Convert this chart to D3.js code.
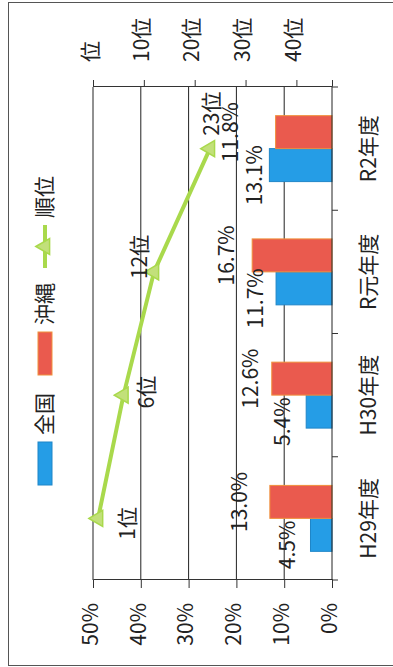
<!DOCTYPE html>
<html lang="ja">
<head>
<meta charset="utf-8">
<script src="https://cdn.jsdelivr.net/npm/d3@7"></script>
<style>
  html, body { margin: 0; padding: 0; background: #fff; }
  svg { display: block; }
  text { font-family: "Noto Sans CJK JP", "Noto Sans", sans-serif; fill: #222; }
</style>
</head>
<body>
<svg id="chart" width="393" height="667"></svg>
<script>
// 年度別の割合（全国・沖縄）と沖縄の全国順位
const categories = ['H29年度', 'H30年度', 'R元年度', 'R2年度'];
const seriesNames = ['全国', '沖縄'];
const zenkoku = [4.5, 5.4, 11.7, 13.1];
const okinawa = [13.0, 12.6, 16.7, 11.8];
const ranks = [1, 6, 12, 23];
const percentTicks = [0, 10, 20, 30, 40, 50];
const rankTicks = [0, 10, 20, 30, 40];
const rankMax = 47;
const rankSeriesName = '順位';

// label placement (pixels, in the chart's own unrotated frame)
const zenLabelGap = [24, 25, 22, 16];
const okiLabelGap = [32, 23, 27, 47];
const rankLabelOffset = [[-5, 28], [3, 21], [15, -16], [35, 0]];

const COLORS = { '全国': '#259de6', '沖縄': '#ea5a4e', line: '#a9d94c' };
const STROKES = { '全国': '#1f86c8', '沖縄': '#f0913c' };
const FONT = 21;

const svg = d3.select('#chart');
const W = 667, H = 393;

// outer frame
svg.append('rect')
  .attr('x', 8.5).attr('y', 2.5).attr('width', 400).attr('height', 663)
  .attr('fill', 'none').attr('stroke', '#555').attr('stroke-width', 1);

// the chart is laid out normally, then turned a quarter turn counter-clockwise
const g = svg.append('g').attr('transform', `translate(0,${W}) rotate(-90)`);

const plot = { left: 87, right: 580, top: 93, bottom: 332 };

const x = d3.scaleBand().domain(categories)
  .range([plot.left, plot.right])
  .paddingInner(0.465).paddingOuter(0.2325);
const xs = d3.scaleBand().domain(seriesNames).range([0, x.bandwidth()]);
const y = d3.scaleLinear().domain([0, 50]).range([plot.bottom, plot.top]);
const r = d3.scaleLinear().domain([0, rankMax]).range([plot.top, plot.bottom]);

// horizontal gridlines
g.append('g').selectAll('line').data(percentTicks.filter(d => d > 0)).join('line')
  .attr('x1', plot.left).attr('x2', plot.right)
  .attr('y1', d => y(d)).attr('y2', d => y(d))
  .attr('stroke', '#222').attr('stroke-width', 1);

// percent axis (left)
const yAxis = g.append('g').attr('transform', `translate(${plot.left},0)`)
  .call(d3.axisLeft(y).tickValues(percentTicks).tickSize(8).tickPadding(15)
    .tickFormat(d => d + '%'));
yAxis.select('.domain').attr('stroke', '#333');
yAxis.selectAll('.tick line').attr('stroke', '#333');
yAxis.selectAll('text').style('font-size', FONT + 'px').attr('dy', '0.2em').attr('fill', '#222');

// rank axis (right, reversed)
const rAxis = g.append('g').attr('transform', `translate(${plot.right},0)`)
  .call(d3.axisRight(r).tickValues(rankTicks).tickSize(7).tickPadding(18)
    .tickFormat(d => (d === 0 ? '' : d) + '位'));
rAxis.select('.domain').attr('stroke', '#333');
rAxis.selectAll('.tick line').attr('stroke', '#333');
rAxis.selectAll('text').style('font-size', FONT + 'px').attr('dy', '0.2em').attr('fill', '#222');

// bars
seriesNames.forEach((name, si) => {
  const vals = si === 0 ? zenkoku : okinawa;
  g.append('g').selectAll('rect').data(categories).join('rect')
    .attr('x', c => x(c) + xs(name))
    .attr('width', xs.bandwidth())
    .attr('y', (c, i) => y(vals[i]))
    .attr('height', (c, i) => y(0) - y(vals[i]))
    .attr('fill', COLORS[name])
    .attr('stroke', STROKES[name]).attr('stroke-width', 1);
});

// category axis (bottom of the plot)
g.append('line')
  .attr('x1', plot.left).attr('x2', plot.right)
  .attr('y1', plot.bottom).attr('y2', plot.bottom)
  .attr('stroke', '#222');
const bounds = categories.map(c => x(c) - x.step() * x.paddingInner() / 2)
  .concat([plot.right]);
bounds[0] = plot.left;
g.append('g').selectAll('line').data(bounds).join('line')
  .attr('x1', d => d).attr('x2', d => d)
  .attr('y1', plot.bottom).attr('y2', plot.bottom + 6)
  .attr('stroke', '#333');
g.append('g').selectAll('text').data(categories).join('text')
  .attr('x', c => x(c) + x.bandwidth() / 2)
  .attr('y', 367)
  .attr('text-anchor', 'middle').attr('dominant-baseline', 'central')
  .style('font-size', FONT + 'px')
  .text(c => c);

// value labels
seriesNames.forEach((name, si) => {
  const vals = si === 0 ? zenkoku : okinawa;
  const gaps = si === 0 ? zenLabelGap : okiLabelGap;
  const du = si === 0 ? -10 : 0;
  g.append('g').selectAll('text').data(categories).join('text')
    .attr('x', c => x(c) + xs(name) + xs.bandwidth() / 2 + du)
    .attr('y', (c, i) => y(vals[i]) - gaps[i])
    .attr('text-anchor', 'middle').attr('dominant-baseline', 'central')
    .style('font-size', FONT + 'px')
    .text((c, i) => vals[i].toFixed(1) + '%');
});

// rank line
const pts = categories.map((c, i) => [x(c) + x.bandwidth() / 2, r(ranks[i])]);
g.append('path')
  .attr('d', d3.line()(pts))
  .attr('fill', 'none').attr('stroke', COLORS.line)
  .attr('stroke-width', 4).attr('stroke-linejoin', 'round');
g.append('g').selectAll('path').data(pts).join('path')
  .attr('transform', p => `translate(${p[0]},${p[1]})`)
  .attr('d', d3.symbol(d3.symbolTriangle).size(110)())
  .attr('fill', '#c2e07a').attr('stroke', COLORS.line).attr('stroke-width', 1.5);
g.append('g').selectAll('text').data(pts).join('text')
  .attr('x', (p, i) => p[0] + rankLabelOffset[i][0])
  .attr('y', (p, i) => p[1] + rankLabelOffset[i][1])
  .attr('text-anchor', 'middle').attr('dominant-baseline', 'central')
  .style('font-size', FONT + 'px')
  .text((p, i) => ranks[i] + '位');

// legend
const legend = g.append('g');
const legendKeys = [
  { name: '全国', u: 182 },
  { name: '沖縄', u: 292 },
  { name: rankSeriesName, u: 399, line: true }
];
legendKeys.forEach(k => {
  if (k.line) {
    legend.append('line')
      .attr('x1', k.u).attr('x2', k.u + 43).attr('y1', 45).attr('y2', 45)
      .attr('stroke', COLORS.line).attr('stroke-width', 4);
    legend.append('path')
      .attr('transform', `translate(${k.u + 21.5},45)`)
      .attr('d', d3.symbol(d3.symbolTriangle).size(110)())
      .attr('fill', '#c2e07a').attr('stroke', COLORS.line).attr('stroke-width', 1.5);
  } else {
    legend.append('rect')
      .attr('x', k.u).attr('y', 38).attr('width', 43).attr('height', 14)
      .attr('fill', COLORS[k.name]).attr('stroke', STROKES[k.name]);
  }
  legend.append('text')
    .attr('x', k.u + 50).attr('y', 43)
    .attr('dominant-baseline', 'central')
    .style('font-size', FONT + 'px')
    .text(k.name);
});
</script>
</body>
</html>
